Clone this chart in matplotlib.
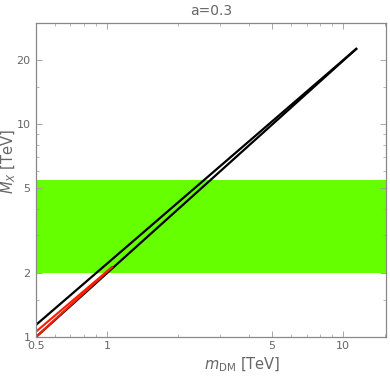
import matplotlib
matplotlib.use('Agg')
from matplotlib import pyplot as plt
from matplotlib.ticker import FixedLocator, NullFormatter

# boundaries of the allowed band (m_DM in TeV, M_X in TeV)
m_dm = [0.5, 11.46]
mx_upper = [1.14, 22.7]
mx_lower = [1.0, 22.7]

# red part at low mass
m_red = [0.5, 1.05]
mx_red_upper = [1.06, 2.13]
mx_red_lower = [1.0, 2.13]

# green band in M_X
band = [2.0, 5.46]

xticks = [0.5, 1, 5, 10]
xlabels = ['0.5', '1', '5', '10']
yticks = [1, 2, 5, 10, 20]
ylabels = ['1', '2', '5', '10', '20']

gray = '#666666'

fig = plt.figure(figsize=(3.9, 3.76), dpi=100)
ax = fig.add_axes([0.0923, 0.1037, 0.8974, 0.8351])
ax.set_xscale('log')
ax.set_yscale('log')
ax.set_xlim(0.5, 15.2)
ax.set_ylim(1, 29.8)

ax.axhspan(band[0], band[1], color='#66ff00', lw=0)
ax.plot(m_dm, mx_upper, color='black', lw=1.6, solid_capstyle='butt')
ax.plot(m_dm, mx_lower, color='black', lw=1.6, solid_capstyle='butt')
ax.plot(m_red, mx_red_upper, color='#ff1a00', lw=1.5)
ax.plot(m_red, mx_red_lower, color='#ff1a00', lw=1.5)

ax.xaxis.set_major_locator(FixedLocator(xticks))
ax.set_xticklabels(xlabels)
ax.xaxis.set_minor_locator(FixedLocator([0.6, 0.7, 0.8, 0.9, 2, 3, 4, 6, 7, 8, 9, 15]))
ax.xaxis.set_minor_formatter(NullFormatter())
ax.yaxis.set_major_locator(FixedLocator(yticks))
ax.set_yticklabels(ylabels)
ax.yaxis.set_minor_locator(FixedLocator([1.5, 3, 4, 6, 7, 8, 9, 15, 30]))
ax.yaxis.set_minor_formatter(NullFormatter())

ax.tick_params(which='both', direction='in', top=True, right=True, colors='#999999',
               labelcolor=gray, labelsize=8)
ax.tick_params(axis='x', pad=3)
ax.tick_params(axis='y', pad=4)
ax.tick_params(which='major', length=4, width=0.6)
ax.tick_params(which='minor', length=2, width=0.5)
for s in ax.spines.values():
    s.set_color('#888888')
    s.set_linewidth(0.9)

ax.set_xlabel(r'$m_{\rm DM}$ [TeV]', color=gray, fontsize=10.5)
ax.xaxis.set_label_coords(0.59, -0.06)
ax.set_ylabel(r'$M_X$ [TeV]', color=gray, fontsize=10.5)
ax.yaxis.set_label_coords(-0.05, 0.56)
ax.set_title('a=0.3', color=gray, fontsize=10, pad=6)

plt.savefig('out.png', dpi=100)
